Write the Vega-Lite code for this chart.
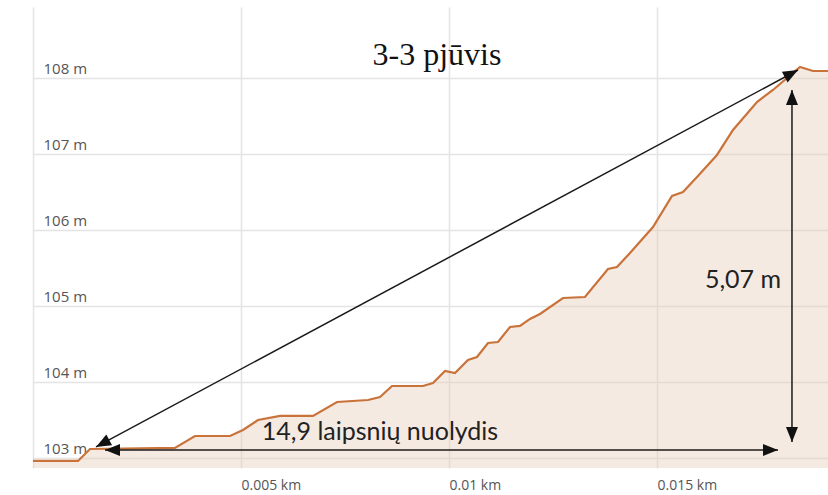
{
  "$schema": "https://vega.github.io/schema/vega-lite/v6.json",
  "width": 795,
  "height": 461,
  "autosize": "none",
  "padding": {"left": 33, "top": 7, "right": 0, "bottom": 27},
  "background": "white",
  "config": {"view": {"stroke": null}},
  "datasets": {
    "profile": [
      {"d": 0, "h": 102.961}, {"d": 0.000288, "h": 102.961}, {"d": 0.001082, "h": 102.961},
      {"d": 0.00137, "h": 103.118}, {"d": 0.003413, "h": 103.132}, {"d": 0.003894, "h": 103.289},
      {"d": 0.004736, "h": 103.289}, {"d": 0.005048, "h": 103.368}, {"d": 0.005409, "h": 103.5},
      {"d": 0.005938, "h": 103.553}, {"d": 0.006731, "h": 103.553}, {"d": 0.007308, "h": 103.737},
      {"d": 0.008053, "h": 103.763}, {"d": 0.008341, "h": 103.803}, {"d": 0.00863, "h": 103.947},
      {"d": 0.009375, "h": 103.947}, {"d": 0.009615, "h": 103.987}, {"d": 0.009904, "h": 104.145},
      {"d": 0.010144, "h": 104.118}, {"d": 0.010457, "h": 104.289}, {"d": 0.010673, "h": 104.329},
      {"d": 0.010938, "h": 104.513}, {"d": 0.011178, "h": 104.526}, {"d": 0.011466, "h": 104.724},
      {"d": 0.011707, "h": 104.737}, {"d": 0.011947, "h": 104.829}, {"d": 0.012188, "h": 104.895},
      {"d": 0.01274, "h": 105.105}, {"d": 0.013269, "h": 105.118}, {"d": 0.013822, "h": 105.487},
      {"d": 0.014038, "h": 105.513}, {"d": 0.014351, "h": 105.697}, {"d": 0.014904, "h": 106.039},
      {"d": 0.015361, "h": 106.447}, {"d": 0.015625, "h": 106.5}, {"d": 0.015962, "h": 106.697},
      {"d": 0.016442, "h": 106.987}, {"d": 0.016827, "h": 107.316}, {"d": 0.017404, "h": 107.684},
      {"d": 0.017788, "h": 107.842}, {"d": 0.018125, "h": 108.0}, {"d": 0.018438, "h": 108.145},
      {"d": 0.01875, "h": 108.092}, {"d": 0.019111, "h": 108.092}
    ],
    "rules": [
      {"x1": 0.001514, "y1": 103.145, "x2": 0.018389, "y2": 108.105},
      {"x1": 0.001731, "y1": 103.105, "x2": 0.017909, "y2": 103.105},
      {"x1": 0.018245, "y1": 107.842, "x2": 0.018245, "y2": 103.211}
    ],
    "arrows": [
      {"x": 0.018389, "y": 108.105, "dir": "diagUp"},
      {"x": 0.001514, "y": 103.145, "dir": "diagDown"},
      {"x": 0.001731, "y": 103.105, "dir": "left"},
      {"x": 0.017909, "y": 103.105, "dir": "right"},
      {"x": 0.018245, "y": 107.842, "dir": "up"},
      {"x": 0.018245, "y": 103.211, "dir": "down"}
    ],
    "title": [{"x": 0.009712, "y": 108.303, "label": "3-3 pjūvis"}],
    "notes": [
      {"x": 0.008341, "y": 103.342, "label": "14,9 laipsnių nuolydis"},
      {"x": 0.017067, "y": 105.342, "label": "5,07 m"}
    ]
  },
  "layer": [
    {
      "data": {"name": "profile"},
      "mark": {"type": "area", "color": "#e6cdb9", "opacity": 0.42, "clip": true},
      "encoding": {
        "x": {"field": "d", "type": "quantitative", "scale": {"domain": [0, 0.019111], "nice": false, "zero": false},
          "axis": {"values": [0, 0.005, 0.01, 0.015], "labelExpr": "datum.value == 0 ? '' : format(datum.value, '~g') + ' km'",
            "title": null, "domain": false, "ticks": false, "grid": true, "gridColor": "#e4e4e4", "gridWidth": 1.5,
            "labelAlign": "left", "labelBaseline": "top", "labelPadding": 10, "labelFont": "Open Sans", "labelFontSize": 14, "labelColor": "#555"}},
        "y": {"field": "h", "type": "quantitative", "scale": {"domain": [102.868, 108.934], "nice": false, "zero": false},
          "axis": {"values": [103, 104, 105, 106, 107, 108], "labelExpr": "format(datum.value, 'd') + ' m'",
            "title": null, "domain": false, "ticks": false, "grid": true, "gridColor": "#e4e4e4", "gridWidth": 1.5,
            "labelAlign": "left", "labelBaseline": "alphabetic", "labelPadding": -10, "labelOffset": -4, "labelFont": "Open Sans", "labelFontSize": 15, "labelColor": "#555"}}
      }
    },
    {
      "data": {"name": "profile"},
      "mark": {"type": "line", "color": "#c9733a", "strokeWidth": 2.2, "clip": true},
      "encoding": {
        "x": {"field": "d", "type": "quantitative", "scale": {"domain": [0, 0.019111], "nice": false, "zero": false}},
        "y": {"field": "h", "type": "quantitative", "scale": {"domain": [102.868, 108.934], "nice": false, "zero": false}}
      }
    },
    {
      "data": {"name": "rules"},
      "mark": {"type": "rule", "color": "#1a1a1a", "strokeWidth": 1.5},
      "encoding": {
        "x": {"field": "x1", "type": "quantitative", "scale": {"domain": [0, 0.019111], "nice": false, "zero": false}},
        "y": {"field": "y1", "type": "quantitative", "scale": {"domain": [102.868, 108.934], "nice": false, "zero": false}},
        "x2": {"field": "x2"},
        "y2": {"field": "y2"}
      }
    },
    {
      "data": {"name": "arrows"},
      "mark": {"type": "point", "shape": "M0,0L-2,-0.8L-2,0.8Z", "filled": true, "color": "#111", "opacity": 1, "size": 225},
      "encoding": {
        "x": {"field": "x", "type": "quantitative", "scale": {"domain": [0, 0.019111], "nice": false, "zero": false}},
        "y": {"field": "y", "type": "quantitative", "scale": {"domain": [102.868, 108.934], "nice": false, "zero": false}},
        "angle": {"field": "dir", "type": "nominal", "legend": null,
          "scale": {"type": "ordinal", "domain": ["diagUp", "diagDown", "left", "right", "up", "down"], "range": [331.76, 151.76, 180, 0, 270, 90]}}
      }
    },
    {
      "data": {"name": "title"},
      "mark": {"type": "text", "font": "Liberation Serif", "fontSize": 32, "color": "#111", "align": "center", "baseline": "middle"},
      "encoding": {
        "x": {"field": "x", "type": "quantitative", "scale": {"domain": [0, 0.019111], "nice": false, "zero": false}},
        "y": {"field": "y", "type": "quantitative", "scale": {"domain": [102.868, 108.934], "nice": false, "zero": false}},
        "text": {"field": "label"}
      }
    },
    {
      "data": {"name": "notes"},
      "mark": {"type": "text", "font": "Lato", "fontSize": 25, "color": "#222", "align": "center", "baseline": "middle"},
      "encoding": {
        "x": {"field": "x", "type": "quantitative", "scale": {"domain": [0, 0.019111], "nice": false, "zero": false}},
        "y": {"field": "y", "type": "quantitative", "scale": {"domain": [102.868, 108.934], "nice": false, "zero": false}},
        "text": {"field": "label"}
      }
    }
  ]
}
